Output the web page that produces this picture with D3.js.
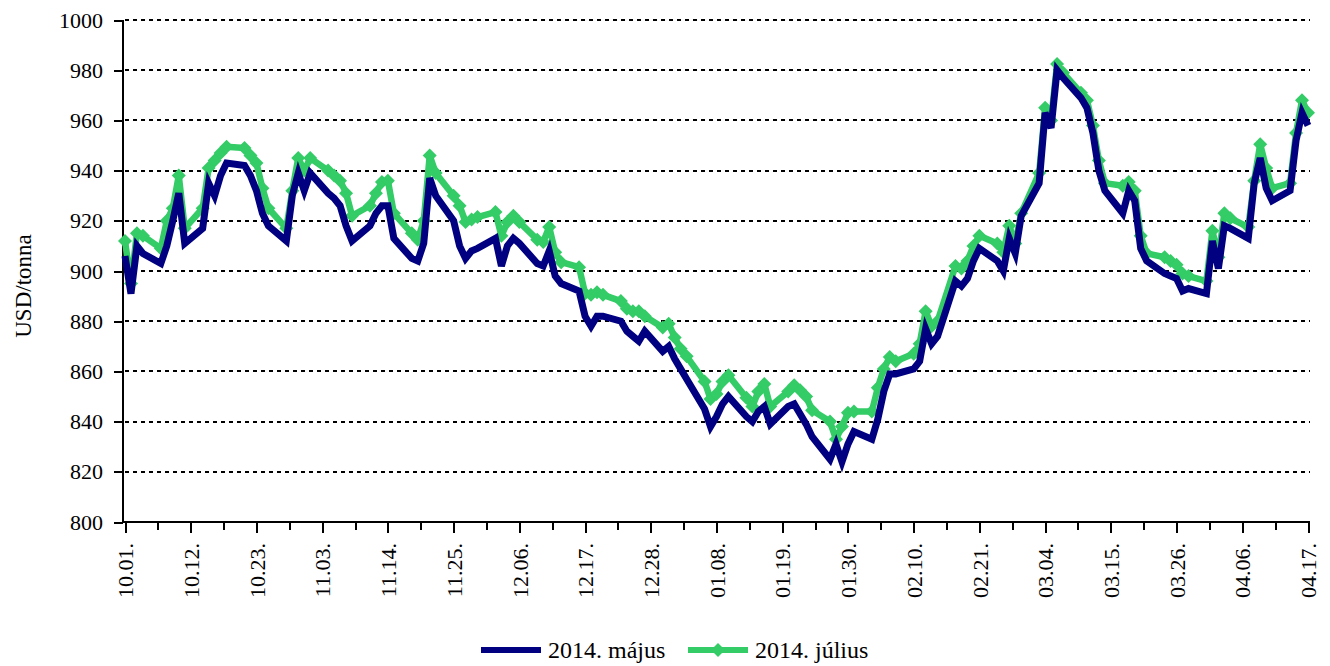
<!DOCTYPE html>
<html>
<head>
<meta charset="utf-8">
<script src="https://d3js.org/d3.v7.min.js"></script>
<style>
  body { margin: 0; background: #fff; }
  svg { font-family: "Liberation Serif", "Times New Roman", serif; }
  .grid line { stroke: #000; stroke-width: 2px; stroke-dasharray: 4 4; shape-rendering: crispEdges; }
  .axis path, .axis line { stroke: #000; stroke-width: 2px; shape-rendering: crispEdges; }
  .axis text { font-size: 22px; fill: #000; font-family: "Liberation Serif", serif; }
</style>
</head>
<body>
<svg id="chart" width="1330" height="666"></svg>
<script>
// trading days (MM.DD), Oct 2013 - Apr 2014
const days = [
  "10.01","10.02","10.03","10.04","10.07","10.08","10.09","10.10","10.11","10.14","10.15","10.16","10.17","10.18","10.21","10.22","10.23","10.24","10.25","10.28","10.29","10.30","10.31",
  "11.01","11.04","11.05","11.06","11.07","11.08","11.11","11.12","11.13","11.14","11.15","11.18","11.19","11.20","11.21","11.22","11.25","11.26","11.27","11.28","11.29",
  "12.02","12.03","12.04","12.05","12.06","12.09","12.10","12.11","12.12","12.13","12.16","12.17","12.18","12.19","12.20","12.23","12.24","12.25","12.26","12.27","12.30","12.31",
  "01.01","01.02","01.03","01.06","01.07","01.08","01.09","01.10","01.13","01.14","01.15","01.16","01.17","01.20","01.21","01.22","01.23","01.24","01.27","01.28","01.29","01.30","01.31",
  "02.03","02.04","02.05","02.06","02.07","02.10","02.11","02.12","02.13","02.14","02.17","02.18","02.19","02.20","02.21","02.24","02.25","02.26","02.27","02.28",
  "03.03","03.04","03.05","03.06","03.07","03.10","03.11","03.12","03.13","03.14","03.17","03.18","03.19","03.20","03.21","03.24","03.25","03.26","03.27","03.28","03.31",
  "04.01","04.02","04.03","04.04","04.07","04.08","04.09","04.10","04.11","04.14","04.15","04.16","04.17"
];

// 2014. május contract
const majus = [
  906, 891, 910, 907, 903, 910, 920, 931, 911, 917, 935, 930, 938, 943, 942, 938, 932, 923, 918, 912, 930, 939, 932,
  939, 931, 929, 926, 918, 912, 918, 923, 926, 926, 913, 905, 904, 911, 937, 930, 920, 910, 905, 908, 909,
  913, 902, 910, 913, 911, 903, 902, 908, 898, 895, 892, 882, 878, 882, 882, 880, 876, 874, 872, 876, 868, 870,
  865, 861, 857, 845, 838, 842, 847, 850, 842, 840, 844, 846, 839, 846, 847, 843, 839, 834, 825, 831, 824, 831, 836,
  833, 841, 852, 859, 859, 861, 864, 877, 871, 874, 896, 894, 897, 904, 909, 904, 900, 913, 907, 922,
  935, 963, 957, 980, 977, 969, 965, 955, 940, 932, 923, 932, 928, 909, 904, 899, 898, 897, 892, 893, 891,
  912, 901, 918, 917, 913, 935, 945, 933, 928, 932, 952, 963, 958
];

// 2014. július contract
const julius = [
  912, 895, 915, 914, 909, 920, 925, 938, 917, 925, 941, 944, 947, 949.5, 949, 946, 943, 933, 925, 917, 932, 945, 940,
  945, 940, 938, 936, 931, 922, 926, 931, 935.5, 936, 923, 915, 912.5, 920, 946, 939, 930, 926, 919.5, 920.5, 921.5,
  923.5, 914, 919.5, 922, 919.5, 912.5, 911.6, 917.5, 907.5, 903.5, 901.5, 891, 890.5, 891.5, 890.5, 888, 885, 884, 884, 882, 877.5, 879,
  873.5, 869, 866, 856, 849, 851, 856, 858.5, 849.5, 846, 852, 855, 846, 852, 854.5, 852.5, 850, 844.5, 840, 833, 838, 843.5, 844,
  844, 853.5, 861, 865.7, 864, 867, 871, 884, 878, 880, 902, 901, 904, 910, 914, 911, 907.5, 918, 911, 923,
  939, 965, 960, 982.5, 979, 971, 968, 958, 944, 935, 934, 935.5, 932, 914, 907, 905.5, 904, 902.5, 899, 898, 896,
  916, 905.5, 923, 921, 917.5, 936, 950.5, 941, 933, 935, 955, 968, 963
];

const tickLabels = ["10.01.","10.12.","10.23.","11.03.","11.14.","11.25.","12.06.","12.17.","12.28.",
  "01.08.","01.19.","01.30.","02.10.","02.21.","03.04.","03.15.","03.26.","04.06.","04.17."];
const yTicks = [800, 820, 840, 860, 880, 900, 920, 940, 960, 980, 1000];
const seriesNames = ["2014. május", "2014. július"];
const colors = ["#000080", "#33cc66"];

function toDate(s) {
  const m = +s.slice(0, 2), d = +s.slice(3, 5);
  return new Date(Date.UTC(m >= 10 ? 2013 : 2014, m - 1, d));
}

const svg = d3.select("#chart");
const x = d3.scaleUtc()
  .domain([toDate("10.01"), toDate("04.17")])
  .range([125, 1308]);
const y = d3.scaleLinear().domain([800, 1000]).range([522, 20]);

// gridlines
svg.append("g").attr("class", "grid")
  .selectAll("line")
  .data(yTicks.slice(1))
  .join("line")
  .attr("x1", 125).attr("x2", 1310)
  .attr("y1", d => Math.round(y(d))).attr("y2", d => Math.round(y(d)));

// y axis
const yAxis = svg.append("g").attr("class", "axis")
  .attr("transform", "translate(123,0)")
  .call(d3.axisLeft(y).tickValues(yTicks).tickSize(9).tickPadding(11).tickSizeOuter(0)
    .tickFormat(d3.format("d")));
yAxis.select(".domain").attr("d", `M0,${y(1000)}V${y(800)}`);

// x axis: major and minor ticks
const tickDates = tickLabels.map(toDate);
const minorDates = tickDates.slice(0, -1).map((d, i) => new Date((+d + +tickDates[i + 1]) / 2));

svg.append("g").attr("class", "axis")
  .attr("transform", "translate(0,522)")
  .call(d3.axisBottom(x).tickValues(minorDates).tickSize(8).tickSizeOuter(0).tickFormat(""))
  .select(".domain").remove();

const xAxis = svg.append("g").attr("class", "axis")
  .attr("transform", "translate(0,522)")
  .call(d3.axisBottom(x).tickValues(tickDates).tickSize(11).tickSizeOuter(0)
    .tickFormat((d, i) => tickLabels[i]));
xAxis.select(".domain").attr("d", "M123,0H1310");
xAxis.selectAll(".tick text")
  .attr("text-anchor", "end")
  .attr("transform", "translate(0,21) rotate(-90)")
  .attr("x", 0).attr("y", 0).attr("dy", "0.35em");

// y title
svg.append("text")
  .attr("transform", "translate(31,286) rotate(-90)")
  .attr("text-anchor", "middle")
  .style("font-size", "23px")
  .text("USD/tonna");

const dates = days.map(toDate);
const line = d3.line().x((d, i) => x(dates[i])).y(d => y(d));
const diamond = "M0,-7L7,0L0,7L-7,0Z";

// július (green with diamonds)
svg.append("path").datum(julius)
  .attr("d", line)
  .attr("fill", "none")
  .attr("stroke", colors[1])
  .attr("stroke-width", 6.5)
  .attr("stroke-linejoin", "round");
svg.append("g").selectAll("path")
  .data(julius)
  .join("path")
  .attr("d", diamond)
  .attr("transform", (d, i) => `translate(${x(dates[i])},${y(d)})`)
  .attr("fill", colors[1]);

// május (navy)
svg.append("path").datum(majus)
  .attr("d", line)
  .attr("fill", "none")
  .attr("stroke", colors[0])
  .attr("stroke-width", 7)
  .attr("stroke-linejoin", "miter");

// legend
const legend = svg.append("g").attr("transform", "translate(0,650)");
legend.append("line").attr("x1", 481).attr("x2", 541).attr("y1", 0).attr("y2", 0)
  .attr("stroke", colors[0]).attr("stroke-width", 6);
legend.append("text").attr("x", 548).attr("y", 8).style("font-size", "24px").text(seriesNames[0]);
legend.append("line").attr("x1", 688).attr("x2", 748).attr("y1", 0).attr("y2", 0)
  .attr("stroke", colors[1]).attr("stroke-width", 6);
legend.append("path").attr("d", diamond).attr("transform", "translate(718,0)").attr("fill", colors[1]);
legend.append("text").attr("x", 755).attr("y", 8).style("font-size", "24px").text(seriesNames[1]);
</script>
</body>
</html>
